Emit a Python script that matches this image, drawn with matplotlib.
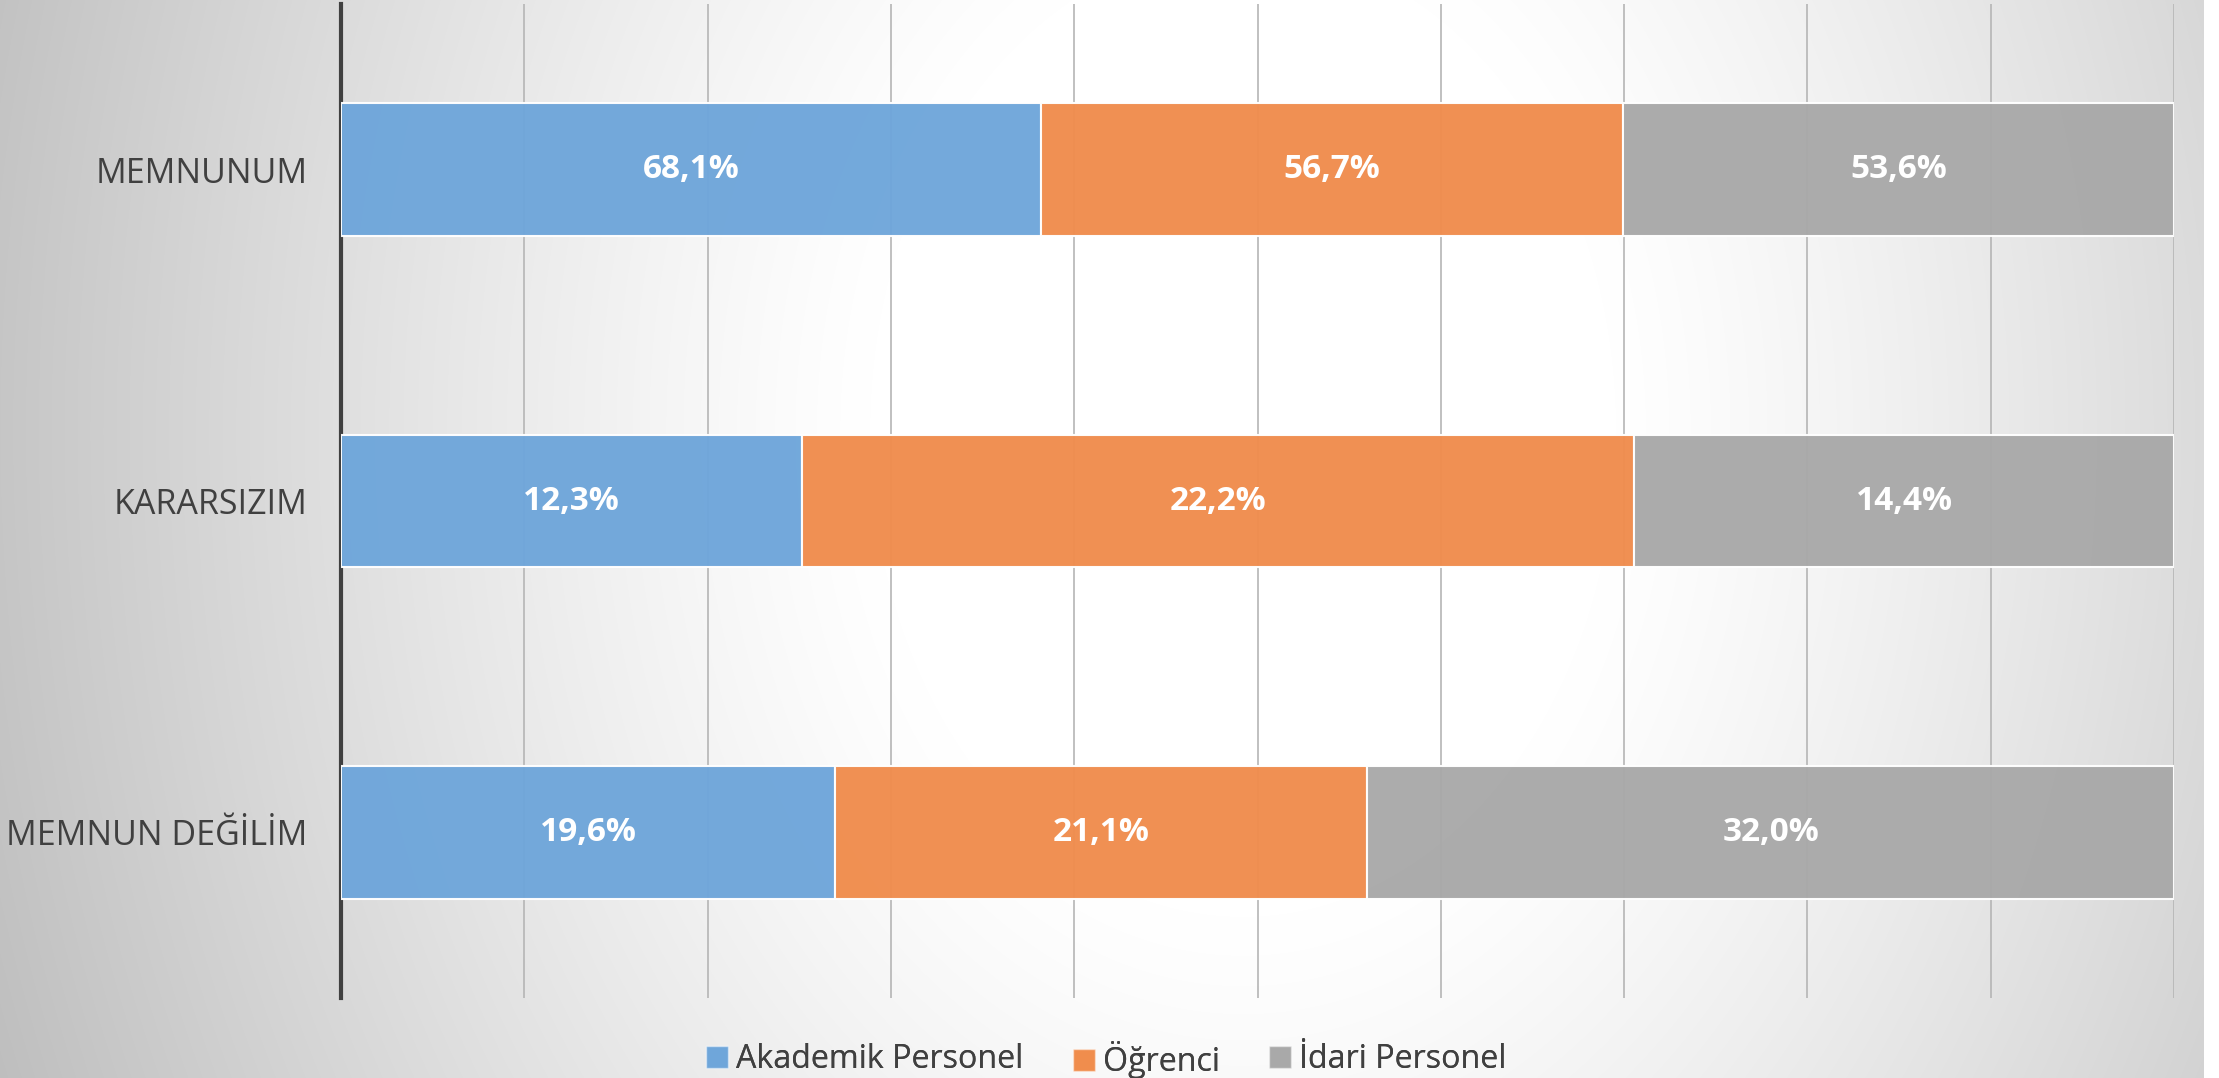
import numpy as np
import matplotlib
matplotlib.use("Agg")
import matplotlib.pyplot as plt
from matplotlib.patches import Patch

categories = ["MEMNUNUM", "KARARSIZIM", "MEMNUN DEĞİLİM"]
series_names = ["Akademik Personel", "Öğrenci", "İdari Personel"]
akademik = [68.1, 12.3, 19.6]
ogrenci = [56.7, 22.2, 21.1]
idari = [53.6, 14.4, 32.0]
colors = ["#6fa6da", "#f08d4d", "#a9a9a9"]

plt.rcParams['font.family'] = ['Open Sans', 'DejaVu Sans']

W, H = 2219, 1078
fig = plt.figure(figsize=(W / 100, H / 100), dpi=100)

# background gradient
bg = fig.add_axes([0, 0, 1, 1], zorder=-10)
yy, xx = np.mgrid[0:H, 0:W]
cx, cy = 0.56 * W, 0.40 * H
d = np.sqrt(((xx - cx) / (0.56 * W)) ** 2 + ((yy - cy) / (1.5 * H)) ** 2)
dd = np.clip((d - 0.3) / 0.7, 0, None)
val = np.clip(255 - 57 * dd ** 1.2, 190, 255) / 255.0
img = np.dstack([val, val, val])
img[:, 2204:, :] = 1.0
bg.imshow(img, extent=[0, W, H, 0], aspect='auto', interpolation='bilinear')
bg.axis('off')

ax = fig.add_axes([341 / W, 1 - 998 / H, (2174 - 341) / W, (998 - 4) / H])
ax.set_facecolor('none')

data = np.array([akademik, ogrenci, idari])
totals = data.sum(axis=0)
pct = data / totals * 100
y = np.arange(len(categories))
left = np.zeros(len(categories))
for i in range(3):
    ax.barh(y, pct[i], left=left, height=0.4, color=colors[i],
            edgecolor=(1, 1, 1, 0.5), linewidth=1.5, alpha=0.97, zorder=3,
            label=series_names[i])
    for j in range(len(categories)):
        ax.text(left[j] + pct[i][j] / 2, y[j], f"{data[i][j]:.1f}%".replace('.', ','),
                ha='center', va='center', color='white', fontsize=24,
                fontweight='bold', zorder=5)
    left += pct[i]

ax.set_xlim(0, 100)
ax.set_ylim(2.5, -0.5)
ax.set_xticks(np.arange(0, 101, 10))
ax.xaxis.grid(True, color='#b5b5b5', linewidth=1.2, zorder=0)
ax.tick_params(axis='x', length=0, labelbottom=False)
ax.set_yticks(y)
ax.set_yticklabels(categories, fontsize=24.5, color='#404040')
ax.tick_params(axis='y', length=0, pad=24)
for s in ['top', 'right', 'bottom']:
    ax.spines[s].set_visible(False)
ax.spines['left'].set_color('#404040')
ax.spines['left'].set_linewidth(3)
ax.set_axisbelow(True)

# legend entries placed like the original (unequal gaps)
leg_x = [700 / W, 1067 / W, 1263 / W]
for c, name, lx in zip(colors, series_names, leg_x):
    lg = fig.legend([Patch(facecolor=c, edgecolor=(1, 1, 1, 0.5))], [name],
                    loc='center left', bbox_to_anchor=(lx, 1 - 1060 / H),
                    frameon=False, fontsize=23.2, handlelength=0.66, handleheight=0.66,
                    handletextpad=0.25, borderaxespad=0, borderpad=0.2,
                    labelcolor='#404040')
    fig.add_artist(lg)

fig.savefig("out.png", dpi=100)
